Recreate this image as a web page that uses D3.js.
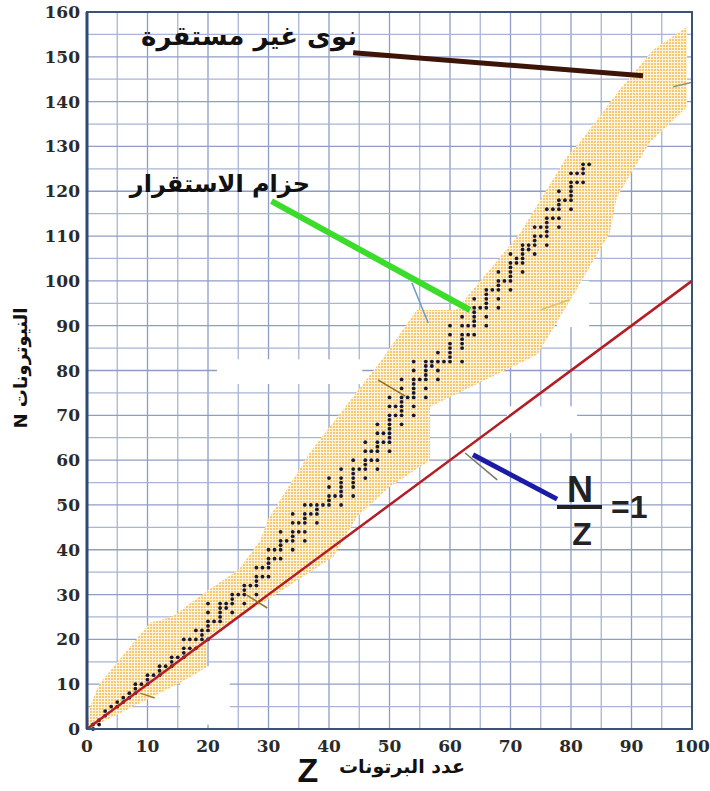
<!DOCTYPE html>
<html>
<head>
<meta charset="utf-8">
<script src="https://cdn.jsdelivr.net/npm/d3@7"></script>
<style>
body { margin: 0; background: #fff; }
svg { display: block; }
</style>
</head>
<body>
<script>
// axis ticks
var zTicks = d3.range(0, 101, 10);
var nTicks = d3.range(0, 161, 10);
var gridStep = 5;

// stable nuclides: [Z, [N values]]
var stableNuclides = [
	[1, [0, 1]], [2, [1, 2]], [3, [3, 4]], [4, [5]], [5, [5, 6]], [6, [6, 7]], [7, [7, 8]],
	[8, [8, 9, 10]], [9, [10]], [10, [10, 11, 12]], [11, [12]], [12, [12, 13, 14]], [13, [14]],
	[14, [14, 15, 16]], [15, [16]], [16, [16, 17, 18, 20]], [17, [18, 20]], [18, [18, 20, 22]],
	[19, [20, 21, 22]], [20, [20, 22, 23, 24, 26, 28]], [21, [24]], [22, [24, 25, 26, 27, 28]],
	[23, [27, 28]], [24, [26, 28, 29, 30]], [25, [30]], [26, [28, 30, 31, 32]], [27, [32]],
	[28, [30, 32, 33, 34, 36]], [29, [34, 36]], [30, [34, 36, 37, 38, 40]], [31, [38, 40]],
	[32, [38, 40, 41, 42, 44]], [33, [42]], [34, [40, 42, 43, 44, 46, 48]], [35, [44, 46]],
	[36, [42, 44, 46, 47, 48, 50]], [37, [48, 50]], [38, [46, 48, 49, 50]], [39, [50]],
	[40, [50, 51, 52, 54, 56]], [41, [52]], [42, [50, 52, 53, 54, 55, 56, 58]],
	[44, [52, 54, 55, 56, 57, 58, 60]], [45, [58]], [46, [56, 58, 59, 60, 62, 64]], [47, [60, 62]],
	[48, [58, 60, 62, 63, 64, 66, 68]], [49, [64, 66]], [50, [62, 64, 65, 66, 67, 68, 69, 70, 72, 74]],
	[51, [70, 72]], [52, [68, 70, 71, 72, 73, 74, 76, 78]], [53, [74]],
	[54, [70, 72, 74, 75, 76, 77, 78, 80, 82]], [55, [78]], [56, [74, 76, 78, 79, 80, 81, 82]],
	[57, [81, 82]], [58, [78, 80, 82, 84]], [59, [82]], [60, [82, 83, 84, 85, 86, 88, 90]],
	[62, [82, 85, 86, 87, 88, 90, 92]], [63, [88, 90]], [64, [88, 90, 91, 92, 93, 94, 96]], [65, [94]],
	[66, [90, 92, 94, 95, 96, 97, 98]], [67, [98]], [68, [94, 96, 98, 99, 100, 102]], [69, [100]],
	[70, [98, 100, 101, 102, 103, 104, 106]], [71, [104, 105]], [72, [102, 104, 105, 106, 107, 108]],
	[73, [107, 108]], [74, [106, 108, 109, 110, 112]], [75, [110, 112]],
	[76, [108, 110, 111, 112, 113, 114, 116]], [77, [114, 116]], [78, [112, 114, 116, 117, 118, 120]],
	[79, [118]], [80, [116, 118, 119, 120, 121, 122, 124]], [81, [122, 124]], [82, [122, 124, 125, 126]],
	[83, [126]]
];

// stability belt outline, upper edge then lower edge back to origin
var beltUpper = [[0, 0], [0.5, 5], [2, 10], [10.4, 23.7], [14, 25], [19.8, 30.8], [25, 35.5], [28.6, 42],
	[30, 47], [37, 62], [48.5, 82], [54.5, 93.5], [61, 93.5], [71.6, 110.7], [79.3, 127.7],
	[81.5, 131], [88, 142.6], [93.6, 151.6], [99.2, 156.7]];
var beltLower = [[99.2, 138.8], [93, 130.8], [87.6, 118.8], [86.4, 110.7], [79.8, 95.5], [74.4, 83.5],
	[56.7, 71.9], [56.7, 60], [50, 54], [44.6, 47.3], [40.7, 38.4], [29.8, 28.8], [24.1, 24.3],
	[19.8, 20.5], [19.8, 13.8], [15.4, 10.3], [9.9, 6.5], [1, 0.5], [0, 0]];

// N = Z line
var unityLine = [[0, 0], [100, 100]];

// pointer lines [Z1, N1, Z2, N2]
var unstablePointer = [44, 150.9, 91.9, 145.8];
var beltPointer = [30.5, 117.8, 63.3, 93.5];
var ratioPointer = [63.8, 61.2, 77.7, 51.3];

// stray thin strokes in the figure [Z1, N1, Z2, N2, colour]
var strokes = [
	[53.7, 99.6, 56.4, 90.6, "#6a9ac8"],
	[48.1, 77.9, 52.6, 74.3, "#8a6d2c"],
	[62.5, 61.6, 67.8, 55.6, "#7a7466"],
	[8.8, 8, 11.2, 6.9, "#a08030"],
	[26.4, 29.9, 29.8, 27, "#8a7a30"],
	[74.9, 93.5, 79.8, 95.8, "#d8c070"],
	[96.9, 143.3, 100.2, 144.4, "#8a9a70"]
];

// patches where the grid is blank [Z1, Z2, N1, N2]
var blankPatches = [
	[21.5, 45.5, 77, 82.5],
	[15.4, 23.6, 1, 14],
	[77.7, 83, 89.7, 100],
	[69.4, 81, 66, 72]
];

async function main(){

	var w = 710;
	var h = 791;

	var x = d3.scaleLinear().domain([0, 100]).range([87, 692]);
	var y = d3.scaleLinear().domain([0, 160]).range([729, 12]);

	var svg = d3.select("body")
				.append("svg")
				.attr("width", w)
				.attr("height", h);

	var defs = svg.append("defs");
	var pat = defs.append("pattern")
				.attr("id", "belt")
				.attr("width", 3)
				.attr("height", 3)
				.attr("patternUnits", "userSpaceOnUse");
	pat.append("rect").attr("width", 3).attr("height", 3).attr("fill", "#fef4de");
	pat.append("rect").attr("width", 2).attr("height", 2).attr("fill", "#f7c874");

	// grid
	var gridColour = function(d){ return d % 10 === 0 ? "#8f9dc6" : "#a9b4d6"; };

	svg.append("g")
		.selectAll("line")
		.data(d3.range(0, 101, gridStep))
		.enter()
		.append("line")
		.attr("x1", function(d){ return x(d); })
		.attr("x2", function(d){ return x(d); })
		.attr("y1", y(0))
		.attr("y2", y(160))
		.attr("stroke", gridColour)
		.attr("stroke-width", 1.3);

	svg.append("g")
		.selectAll("line")
		.data(d3.range(0, 161, gridStep))
		.enter()
		.append("line")
		.attr("x1", x(0))
		.attr("x2", x(100))
		.attr("y1", function(d){ return y(d); })
		.attr("y2", function(d){ return y(d); })
		.attr("stroke", gridColour)
		.attr("stroke-width", 1.3);

	svg.append("g")
		.selectAll("rect")
		.data(blankPatches)
		.enter()
		.append("rect")
		.attr("x", function(d){ return x(d[0]); })
		.attr("y", function(d){ return y(d[3]); })
		.attr("width", function(d){ return x(d[1]) - x(d[0]); })
		.attr("height", function(d){ return y(d[2]) - y(d[3]); })
		.attr("fill", "#fff");

	// stability belt
	var line = d3.line()
				.x(function(d){ return x(d[0]); })
				.y(function(d){ return y(d[1]); });

	svg.append("path")
		.attr("d", line(beltUpper.concat(beltLower)) + "Z")
		.attr("fill", "url(#belt)");

	// stable nuclides
	var points = [];
	stableNuclides.forEach(function(d){
		d[1].forEach(function(n){ points.push({z: d[0], n: n}); });
	});

	svg.append("g")
		.selectAll("circle")
		.data(points)
		.enter()
		.append("circle")
		.attr("cx", function(d){ return x(d.z); })
		.attr("cy", function(d){ return y(d.n); })
		.attr("r", 1.9)
		.attr("fill", "#17172e");

	// N = Z
	svg.append("path")
		.attr("d", line(unityLine))
		.attr("stroke", "#b31d24")
		.attr("stroke-width", 2.5)
		.attr("fill", "none");

	svg.append("g")
		.selectAll("line")
		.data(strokes)
		.enter()
		.append("line")
		.attr("x1", function(d){ return x(d[0]); })
		.attr("y1", function(d){ return y(d[1]); })
		.attr("x2", function(d){ return x(d[2]); })
		.attr("y2", function(d){ return y(d[3]); })
		.attr("stroke", function(d){ return d[4]; })
		.attr("stroke-width", 1.5);

	// frame
	svg.append("rect")
		.attr("x", x(0))
		.attr("y", y(160))
		.attr("width", x(100) - x(0))
		.attr("height", y(0) - y(160))
		.attr("fill", "none")
		.attr("stroke", "#3c5275")
		.attr("stroke-width", 2);

	svg.append("line")
		.attr("x1", x(0)).attr("x2", x(0))
		.attr("y1", y(0)).attr("y2", y(160))
		.attr("stroke", "#2e4a73")
		.attr("stroke-width", 3);

	// tick labels
	svg.append("g")
		.selectAll("text")
		.data(nTicks)
		.enter()
		.append("text")
		.text(function(d){ return d; })
		.attr("x", 80)
		.attr("y", function(d){ return y(d) + 6; })
		.attr("text-anchor", "end")
		.attr("font-family", "DejaVu Serif")
		.attr("font-weight", "bold")
		.attr("font-size", 17)
		.attr("fill", "#2a2a2a");

	svg.append("g")
		.selectAll("text")
		.data(zTicks)
		.enter()
		.append("text")
		.text(function(d){ return d; })
		.attr("x", function(d){ return x(d); })
		.attr("y", 752)
		.attr("text-anchor", "middle")
		.attr("font-family", "DejaVu Serif")
		.attr("font-weight", "bold")
		.attr("font-size", 17)
		.attr("fill", "#2a2a2a");

	// axis titles
	svg.append("text")
		.text("النيوترونات N")
		.attr("transform", "translate(27," + 368 + ") rotate(-90)")
		.attr("text-anchor", "middle")
		.attr("direction", "rtl")
		.attr("font-family", "DejaVu Sans")
		.attr("font-weight", "bold")
		.attr("font-size", 18)
		.attr("fill", "#111");

	svg.append("text")
		.text("Z")
		.attr("x", 308)
		.attr("y", 782)
		.attr("text-anchor", "middle")
		.attr("font-family", "Liberation Sans")
		.attr("font-weight", "bold")
		.attr("font-size", 34)
		.attr("fill", "#111");

	svg.append("text")
		.text("عدد البرتونات")
		.attr("x", 402)
		.attr("y", 773)
		.attr("text-anchor", "middle")
		.attr("direction", "rtl")
		.attr("font-family", "DejaVu Sans")
		.attr("font-weight", "bold")
		.attr("font-size", 19)
		.attr("fill", "#111");

	// annotations
	var pointers = [
		{p: unstablePointer, c: "#3d1408", w: 5},
		{p: beltPointer, c: "#3bdc2a", w: 6},
		{p: ratioPointer, c: "#1b1ba6", w: 5}
	];
	svg.append("g")
		.selectAll("line")
		.data(pointers)
		.enter()
		.append("line")
		.attr("x1", function(d){ return x(d.p[0]); })
		.attr("y1", function(d){ return y(d.p[1]); })
		.attr("x2", function(d){ return x(d.p[2]); })
		.attr("y2", function(d){ return y(d.p[3]); })
		.attr("stroke", function(d){ return d.c; })
		.attr("stroke-width", function(d){ return d.w; });

	svg.append("text")
		.text("نوى غير مستقرة")
		.attr("x", 357)
		.attr("y", 45)
		.attr("text-anchor", "start")
		.attr("direction", "rtl")
		.attr("font-family", "DejaVu Sans")
		.attr("font-weight", "bold")
		.attr("font-size", 26)
		.attr("fill", "#111");

	svg.append("text")
		.text("حزام الاستقرار")
		.attr("x", 310)
		.attr("y", 192)
		.attr("text-anchor", "start")
		.attr("direction", "rtl")
		.attr("font-family", "DejaVu Sans")
		.attr("font-weight", "bold")
		.attr("font-size", 24)
		.attr("fill", "#111");

	// N/Z = 1
	svg.append("text")
		.text("N")
		.attr("x", 580)
		.attr("y", 502)
		.attr("text-anchor", "middle")
		.attr("font-family", "Liberation Sans")
		.attr("font-weight", "bold")
		.attr("font-size", 36)
		.attr("fill", "#222");
	svg.append("line")
		.attr("x1", 557).attr("x2", 602)
		.attr("y1", 507).attr("y2", 507)
		.attr("stroke", "#222")
		.attr("stroke-width", 4);
	svg.append("text")
		.text("Z")
		.attr("x", 582)
		.attr("y", 545)
		.attr("text-anchor", "middle")
		.attr("font-family", "Liberation Sans")
		.attr("font-weight", "bold")
		.attr("font-size", 32)
		.attr("fill", "#222");
	svg.append("text")
		.text("=1")
		.attr("x", 611)
		.attr("y", 518)
		.attr("font-family", "Liberation Sans")
		.attr("font-weight", "bold")
		.attr("font-size", 32)
		.attr("fill", "#222");

};

main();
</script>
</body>
</html>
